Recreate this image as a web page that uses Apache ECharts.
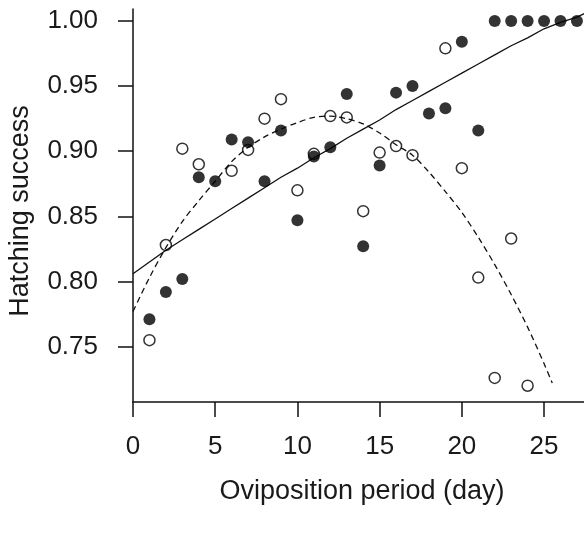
<!DOCTYPE html>
<html>
<head>
<meta charset="utf-8">
<script src="https://cdn.jsdelivr.net/npm/echarts@6/dist/echarts.min.js"></script>
<style>
  html, body { margin: 0; padding: 0; background: #fff; }
  #chart { width: 584px; height: 535px; }
</style>
</head>
<body>
<div id="chart"></div>
<script>
// Filled points (day, hatching success)
var filledDays = [1,2,3,4,5,6,7,8,9,10,11,12,13,14,15,16,17,18,19,20,21,22,23,24,25,26,27];
var filledValues = [0.771,0.792,0.802,0.880,0.877,0.909,0.907,0.877,0.916,0.847,0.896,0.903,0.944,0.827,0.889,0.945,0.950,0.929,0.933,0.984,0.916,1.000,1.000,1.000,1.000,1.000,1.000];

// Open points
var openDays = [1,2,3,4,6,7,8,9,10,11,12,13,14,15,16,17,19,20,21,22,23,24];
var openValues = [0.755,0.828,0.902,0.890,0.885,0.901,0.925,0.940,0.870,0.898,0.927,0.926,0.854,0.899,0.904,0.897,0.979,0.887,0.803,0.726,0.833,0.720];

// Solid fitted line
var solidDays = [0,1,2,3,4,5,6,7,8,9,10,11,12,13,14,15,16,17,18,19,20,21,22,23,24,25,26,27,27.5];
var solidValues = [0.806,0.815,0.824,0.832,0.840,0.848,0.856,0.864,0.872,0.880,0.887,0.895,0.902,0.910,0.917,0.924,0.932,0.939,0.946,0.953,0.960,0.967,0.974,0.981,0.987,0.994,0.999,1.003,1.006];

// Dashed fitted curve
var dashedDays = [0,1,2,3,4,5,6,7,8,9,10,11,12,13,14,15,16,17,18,19,20,21,22,23,24,25,25.5];
var dashedValues = [0.777,0.803,0.826,0.846,0.862,0.877,0.892,0.903,0.911,0.917,0.922,0.926,0.927,0.925,0.921,0.914,0.905,0.897,0.884,0.869,0.853,0.834,0.813,0.790,0.765,0.737,0.722];

var xTicks = [0,5,10,15,20,25];
var yTicks = [0.75,0.80,0.85,0.90,0.95,1.00];

function zip(a, b) { return a.map(function (v, i) { return [v, b[i]]; }); }

var FONT = 'Liberation Sans, Arial, sans-serif';
var TXT = '#1a1a1a';

var chart = echarts.init(document.getElementById('chart'), null, { renderer: 'canvas' });
chart.setOption({
  animation: false,
  backgroundColor: '#ffffff',
  grid: { left: 133, right: 0, top: 9, bottom: 133, containLabel: false },
  xAxis: {
    type: 'value', min: 0, max: 27.43,
    axisLine: { show: true, onZero: false, lineStyle: { color: '#111', width: 1.5 } },
    axisTick: { show: true, inside: false, length: 15, customValues: xTicks, lineStyle: { color: '#111', width: 1.5 } },
    axisLabel: { show: true, customValues: xTicks, margin: 32, fontSize: 26, fontFamily: FONT, color: TXT },
    splitLine: { show: false }
  },
  yAxis: {
    type: 'value', min: 0.7075, max: 1.0092,
    axisLine: { show: true, onZero: false, lineStyle: { color: '#111', width: 1.5 } },
    axisTick: { show: true, inside: false, length: 15, customValues: yTicks, lineStyle: { color: '#111', width: 1.5 } },
    axisLabel: { show: true, customValues: yTicks, margin: 35, fontSize: 26, fontFamily: FONT, color: TXT,
      formatter: function (v) { return v.toFixed(2); } },
    splitLine: { show: false }
  },
  graphic: [
    { type: 'text', x: 362, y: 478,
      style: { text: 'Oviposition period (day)', fontSize: 27, fontFamily: FONT, fill: TXT, align: 'center', verticalAlign: 'top' } },
    { type: 'text', rotation: Math.PI / 2, x: 7, y: 211,
      style: { text: 'Hatching success', fontSize: 27, fontFamily: FONT, fill: TXT, align: 'center', verticalAlign: 'top' } }
  ],
  series: [
    { type: 'line', data: zip(solidDays, solidValues), showSymbol: false, symbol: 'none', clip: true,
      lineStyle: { color: '#111', width: 1.3, type: 'solid' }, z: 2 },
    { type: 'line', data: zip(dashedDays, dashedValues), showSymbol: false, symbol: 'none', clip: true, smooth: 0.3,
      lineStyle: { color: '#111', width: 1.3, type: [6, 4] }, z: 2 },
    { type: 'scatter', data: zip(openDays, openValues), symbol: 'circle', symbolSize: 11,
      itemStyle: { color: 'rgba(0,0,0,0)', borderColor: '#000', borderWidth: 1.5 }, z: 3 },
    { type: 'scatter', data: zip(filledDays, filledValues), symbol: 'circle', symbolSize: 12, clip: false,
      itemStyle: { color: '#000' }, z: 4 }
  ]
});
</script>
</body>
</html>
